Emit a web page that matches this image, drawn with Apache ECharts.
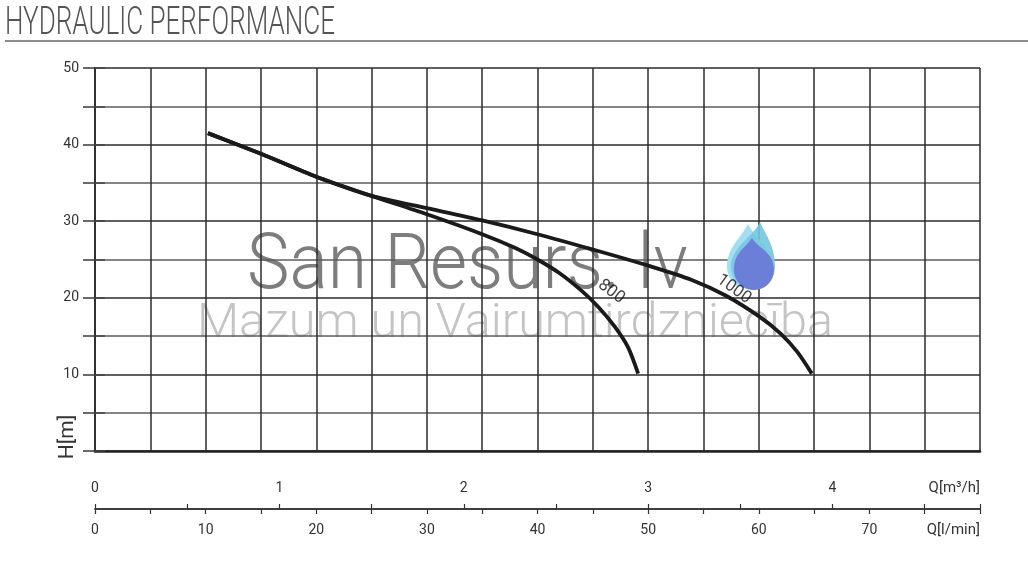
<!DOCTYPE html>
<html><head><meta charset="utf-8">
<script src="https://cdn.jsdelivr.net/npm/echarts@6/dist/echarts.min.js"></script>
<style>html,body{margin:0;padding:0;background:#fff}#c{width:1028px;height:568px}</style>
</head><body><div id="c"></div>
<script>
// ---- data ----
const curveNames = ['800', '1000'];
const flow800 = [10.2, 15, 20, 25, 30, 35, 38, 40, 42, 44, 45.5, 47, 48.2, 49.1];   // l/min
const head800 = [41.5, 38.8, 35.8, 33.3, 30.9, 28.3, 26.5, 25.0, 23.2, 20.9, 18.8, 16.2, 13.5, 10.1]; // m
const flow1000 = [10.2, 15, 20, 25, 30, 35, 40, 45, 50, 54, 57, 60, 62, 63.5, 64.8];
const head1000 = [41.5, 38.8, 35.8, 33.3, 31.7, 30.1, 28.3, 26.3, 24.2, 22.3, 20.3, 17.6, 15.3, 12.9, 10.1];
const hLabels = [10, 20, 30, 40, 50];            // H[m] tick labels
const lminLabels = [0, 10, 20, 30, 40, 50, 60, 70]; // Q[l/min] tick labels
const m3hLabels = [0, 1, 2, 3, 4];                // Q[m3/h] tick labels
const titleText = 'HYDRAULIC PERFORMANCE';
const wm1 = 'San Resurs. lv';
const wm2 = 'Mazum un Vairumtirdzniecība';

// ---- helpers ----
const mctx = document.createElement('canvas').getContext('2d');
function textW(text, size, family, weight) {
  mctx.font = (weight || 'normal') + ' ' + size + 'px ' + family;
  return mctx.measureText(text).width;
}
const titleFam = 'Roboto, "Liberation Sans", sans-serif';
const titleScale = 330 / textW(titleText, 39, titleFam, 300);
const wmFam = 'Roboto, "Noto Sans", sans-serif';
const wm1Scale = 441 / textW(wm1, 78, wmFam, 300);
const wm2Scale = 636 / textW(wm2, 48, wmFam, 300);

function dropPath(tx, ty, cx, cy, r) {
  const h = cy - ty;
  return 'M' + tx + ' ' + ty +
    ' C' + (tx + r * 0.35) + ' ' + (ty + h * 0.35) + ' ' + (cx + r) + ' ' + (cy - r * 0.9) + ' ' + (cx + r) + ' ' + cy +
    ' A' + r + ' ' + r + ' 0 0 1 ' + (cx - r) + ' ' + cy +
    ' C' + (cx - r) + ' ' + (cy - r * 0.9) + ' ' + (tx - r * 0.35) + ' ' + (ty + h * 0.35) + ' ' + tx + ' ' + ty + ' Z';
}
const dropSvg = '<svg xmlns="http://www.w3.org/2000/svg" width="60" height="80" viewBox="0 0 60 80">' +
  '<path d="' + dropPath(26, 4, 27, 47, 22) + '" fill="#a8dcee"/>' +
  '<path d="' + dropPath(38, 2, 31, 47, 22) + '" fill="#74c6e0" fill-opacity="0.9"/>' +
  '<path d="' + dropPath(30, 18, 32, 50, 20) + '" fill="#6c7fd8"/>' +
  '</svg>';
const dropImg = 'data:image/svg+xml;charset=utf-8,' + encodeURIComponent(dropSvg);

const chart = echarts.init(document.getElementById('c'), null, {renderer: 'canvas'});
const axisFont = {fontFamily: 'Roboto, "Liberation Sans", sans-serif', fontSize: 14, color: '#333'};

chart.setOption({
  animation: false,
  backgroundColor: '#fff',
  grid: {left: 95, right: 48, top: 68, bottom: 117, containLabel: false},
  xAxis: [
    { // plot grid
      type: 'value', min: 0, max: 80, interval: 5, position: 'bottom',
      axisLine: {show: true, onZero: false, lineStyle: {color: '#222', width: 2.5}},
      axisTick: {show: false}, axisLabel: {show: false},
      splitLine: {show: true, lineStyle: {color: '#2b2b2b', width: 1.5}}
    },
    { // Q[l/min]
      type: 'value', min: 0, max: 80, interval: 5, position: 'bottom', offset: 58,
      axisLine: {show: true, onZero: false, lineStyle: {color: '#333', width: 1.5}},
      axisTick: {show: true, inside: false, length: 5, lineStyle: {color: '#333', width: 1.2}},
      axisLabel: Object.assign({show: true, margin: 14,
        formatter: v => lminLabels.indexOf(v) >= 0 ? String(v) : ''}, axisFont),
      splitLine: {show: false},
      name: 'Q[l/min]', nameLocation: 'end', nameGap: 0,
      nameTextStyle: Object.assign({align: 'right', verticalAlign: 'top', padding: [14, 0, 0, 0]}, axisFont, {fontSize: 15})
    },
    { // Q[m3/h]
      type: 'value', min: 0, max: 4.8, interval: 0.5, position: 'bottom', offset: 58,
      axisLine: {show: true, onZero: false, lineStyle: {color: '#333', width: 1.5}},
      axisTick: {show: true, inside: true, length: 5, lineStyle: {color: '#333', width: 1.2}},
      axisLabel: Object.assign({show: true, inside: true, margin: 14,
        formatter: v => m3hLabels.indexOf(Math.round(v * 1000) / 1000) >= 0 ? String(Math.round(v)) : ''}, axisFont),
      splitLine: {show: false},
      name: 'Q[m³/h]', nameLocation: 'end', nameGap: 0,
      nameTextStyle: Object.assign({align: 'right', verticalAlign: 'bottom', padding: [0, 0, 13, 0]}, axisFont, {fontSize: 15})
    }
  ],
  yAxis: [
    {
      type: 'value', min: 0, max: 50, interval: 5, position: 'left',
      axisLine: {show: true, lineStyle: {color: '#222', width: 1.8}},
      axisTick: {show: true, length: 12, lineStyle: {color: '#3a3a3a', width: 1.5}},
      axisLabel: Object.assign({show: true, margin: 16,
        formatter: v => hLabels.indexOf(v) >= 0 ? String(v) : ''}, axisFont),
      splitLine: {show: true, lineStyle: {color: ['#2b2b2b', '#5c5c5c'], width: 1.5}}
    },
    {
      type: 'value', min: 0, max: 50, interval: 5, position: 'right',
      axisLine: {show: true, lineStyle: {color: '#333', width: 1.8}},
      axisTick: {show: true, length: 10, lineStyle: {color: '#444', width: 1.5}},
      axisLabel: {show: false}, splitLine: {show: false}
    }
  ],
  graphic: [
    {type: 'text', x: 5, y: 24, scaleX: titleScale, z: 10,
      style: {text: titleText, fontFamily: titleFam, fontWeight: 300, fontSize: 39, fill: '#555', verticalAlign: 'middle', align: 'left'}},
    {type: 'line', z: 10, shape: {x1: 5, y1: 41, x2: 1028, y2: 41}, style: {stroke: '#666', lineWidth: 1.5}},
    {type: 'text', x: 68, y: 437, rotation: Math.PI / 2, z: 10,
      style: {text: 'H[m]', fontFamily: 'Roboto, sans-serif', fontSize: 21, fill: '#333', align: 'center', verticalAlign: 'middle'}},
    {type: 'text', x: 247, y: 268, scaleX: wm1Scale, z: -1,
      style: {text: wm1, fontFamily: wmFam, fontWeight: 300, fontSize: 78, fill: '#7d7d7d', verticalAlign: 'middle', align: 'left'}},
    {type: 'text', x: 197, y: 325, scaleX: wm2Scale, z: -1,
      style: {text: wm2, fontFamily: wmFam, fontWeight: 300, fontSize: 48, fill: '#c4c4c4', verticalAlign: 'middle', align: 'left'}},
    {type: 'image', z: 5, x: 722, y: 220, style: {image: dropImg, width: 60, height: 80}}
  ],
  series: [
    {
      name: curveNames[0], type: 'line', xAxisIndex: 0, yAxisIndex: 0,
      data: flow800.map((x, i) => [x, head800[i]]),
      showSymbol: false, smooth: 0.25,
      lineStyle: {color: '#1a1a1a', width: 3.8}, z: 4, silent: true
    },
    {
      name: curveNames[1], type: 'line', xAxisIndex: 0, yAxisIndex: 0,
      data: flow1000.map((x, i) => [x, head1000[i]]),
      showSymbol: false, smooth: 0.25,
      lineStyle: {color: '#1a1a1a', width: 3.8}, z: 4, silent: true
    },
    {
      type: 'scatter', xAxisIndex: 0, yAxisIndex: 0, symbolSize: 1, silent: true, z: 6,
      itemStyle: {color: 'rgba(0,0,0,0)'},
      label: {show: true, position: 'inside', fontFamily: 'Roboto, sans-serif', fontSize: 17, color: '#111'},
      data: [
        {value: [flow800[10], head800[10]], label: {formatter: curveNames[0], rotate: -37, offset: [1, -20]}},
        {value: [flow1000[10], head1000[10]], label: {formatter: curveNames[1], rotate: -36, offset: [3, -10]}}
      ]
    }
  ]
});
</script></body></html>
